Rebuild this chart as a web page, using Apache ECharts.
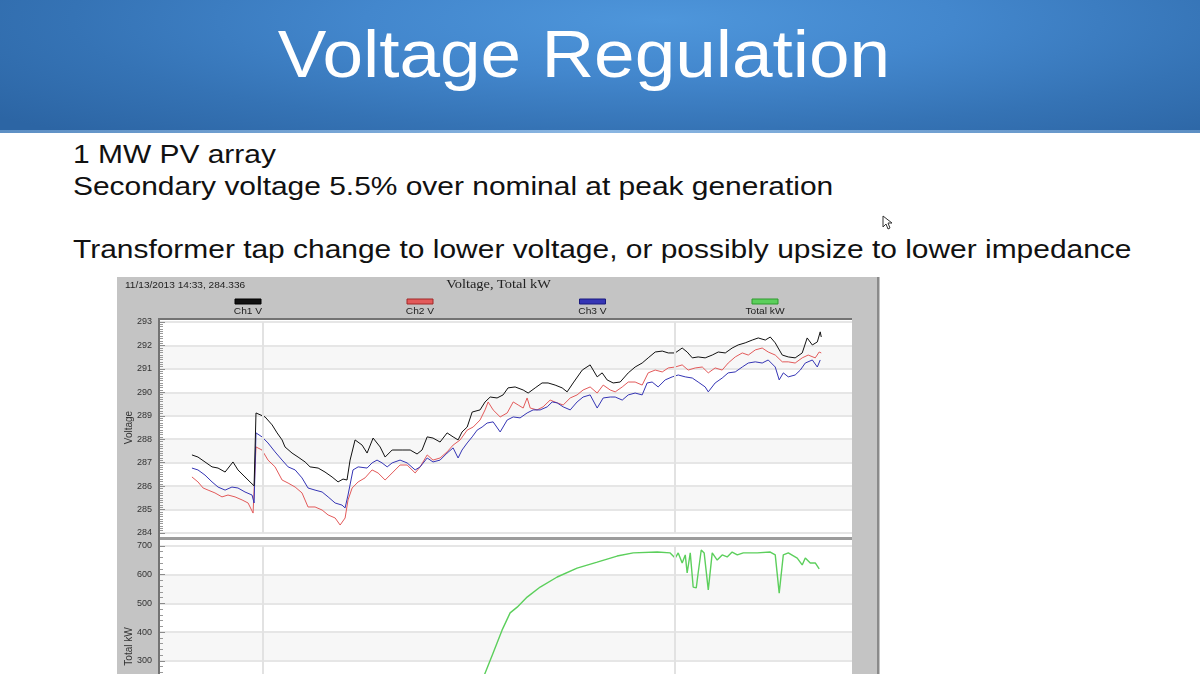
<!DOCTYPE html>
<html><head><meta charset="utf-8">
<script src="https://cdn.jsdelivr.net/npm/echarts@6/dist/echarts.min.js"></script>
<style>
html,body{margin:0;padding:0;width:1200px;height:674px;overflow:hidden;background:#fff;font-family:"Liberation Sans",Arial,sans-serif;}
#band{position:absolute;left:0;top:0;width:1200px;height:132px;background:radial-gradient(ellipse 70% 120% at 55% 15%, #4e96db 0%, #4387cd 35%, #3573b5 70%, #2c65a4 100%);}
#bandline{position:absolute;left:0;top:130px;width:1200px;height:3px;background:linear-gradient(90deg,#5d8fc4,#8ab6e2 50%,#5d8fc4);}
#title{position:absolute;left:583.5px;top:21px;font-size:66px;line-height:1;color:#fff;white-space:nowrap;transform:translateX(-50%) scaleX(1.105);}
.line{position:absolute;left:73px;font-size:25px;line-height:1;color:#111;white-space:nowrap;transform-origin:0 0;transform:scaleX(1.197);}
#chart{position:absolute;left:117px;top:277px;width:763px;height:523px;}
#cursor{position:absolute;left:882px;top:215px;}
</style>
</head><body>
<div id="band"></div><div id="bandline"></div>
<div id="title">Voltage Regulation</div>
<div class="line" style="top:142px">1 MW PV array</div>
<div class="line" style="top:174px">Secondary voltage 5.5% over nominal at peak generation</div>
<div class="line" style="top:237px">Transformer tap change to lower voltage, or possibly upsize to lower impedance</div>
<svg id="cursor" width="12" height="16"><polygon points="1,1 1,12 4,9 6,14 8,13 6,8 10,8" fill="#fff" stroke="#333" stroke-width="1"/></svg>
<div id="chart"></div>
<script>
// time in minutes after 08:00
const headerText = '11/13/2013 14:33, 284.336';
const chartTitle = 'Voltage, Total kW';
const legendNames = ['Ch1 V', 'Ch2 V', 'Ch3 V', 'Total kW'];
const voltRange = [284, 293];
const kwRange = [0, 700];
const timeRange = [0, 403];
const timeGridlines = [60, 300];

const ch1 = [[18.6,287.33],[22.1,287.24],[26.2,287.03],[30.3,286.82],[33.8,286.77],[37.9,286.60],[42.5,287.03],[45.4,286.69],[49.5,286.39],[52.4,286.18],[54.8,286.01],[55.9,289.12],[61.2,288.95],[65.3,288.61],[68.2,288.27],[71.1,287.97],[72.8,287.67],[76.9,287.41],[80.4,287.24],[84.5,287.03],[87.4,286.82],[92.1,286.77],[96.1,286.60],[100.2,286.39],[103.7,286.18],[106.6,286.30],[108.9,286.26],[110.7,287.11],[113.6,287.97],[117.7,287.75],[120.6,287.41],[124.1,288.05],[128.2,287.67],[131.1,287.24],[135.2,287.54],[141.0,287.54],[145.7,287.54],[149.7,287.37],[152.6,287.54],[155.6,288.10],[159.0,288.05],[163.1,287.88],[167.2,288.27],[170.7,288.10],[173.6,287.97],[175.9,288.31],[178.9,288.52],[181.8,289.16],[186.4,289.25],[189.3,289.59],[192.3,289.80],[196.3,289.76],[199.8,289.89],[202.7,290.19],[206.8,290.23],[211.5,290.10],[214.4,289.97],[218.5,290.19],[222.5,290.40],[226.0,290.40],[230.1,290.31],[234.2,290.19],[237.1,290.02],[240.6,290.40],[245.9,290.95],[250.5,291.17],[254.6,290.66],[257.5,290.83],[260.4,290.53],[263.9,290.40],[268.0,290.44],[272.7,290.83],[276.7,291.08],[280.8,291.25],[284.3,291.47],[288.4,291.72],[292.5,291.76],[296.0,291.68],[300.0,291.68],[304.1,291.89],[307.0,291.72],[310.0,291.47],[313.4,291.51],[317.5,291.47],[321.6,291.59],[325.1,291.72],[329.2,291.68],[333.2,291.89],[336.7,292.02],[340.8,292.11],[344.9,292.23],[348.4,292.32],[352.5,292.23],[355.4,292.36],[358.3,292.11],[360.0,291.89],[362.4,291.59],[365.9,291.51],[369.9,291.47],[374.0,291.68],[376.9,292.32],[379.9,292.02],[382.8,292.15],[384.5,292.58],[385.1,292.36]];

const ch2 = [[18.6,286.39],[22.1,286.18],[25.1,285.92],[28.0,285.83],[32.0,285.71],[36.1,285.54],[39.6,285.62],[43.7,285.54],[47.8,285.41],[51.3,285.28],[54.2,284.85],[55.9,287.67],[59.4,287.54],[62.9,287.11],[67.0,286.82],[71.1,286.26],[74.6,286.13],[78.7,285.96],[82.7,285.71],[86.2,285.11],[90.3,285.11],[94.4,284.98],[97.9,284.77],[102.0,284.64],[104.9,284.34],[107.8,284.64],[109.5,285.41],[111.9,285.92],[115.4,286.18],[119.4,286.35],[123.5,286.69],[127.0,286.56],[131.1,286.26],[135.2,286.56],[139.8,286.90],[143.9,286.90],[148.6,286.56],[151.5,286.82],[155.6,287.33],[159.0,287.11],[163.1,287.20],[167.2,287.46],[170.7,287.75],[174.8,287.97],[178.9,288.39],[182.4,288.52],[186.4,288.82],[189.3,289.25],[191.1,289.59],[194.0,289.25],[198.1,288.95],[202.2,289.12],[205.7,289.59],[208.6,289.46],[211.5,289.33],[213.8,289.76],[215.6,289.33],[219.6,289.25],[223.1,289.38],[227.2,289.67],[231.3,289.55],[234.8,289.46],[238.9,289.76],[242.9,289.89],[246.4,290.10],[250.5,290.23],[254.6,289.97],[258.1,290.31],[262.2,290.10],[265.1,290.02],[269.2,290.23],[272.7,290.44],[276.7,290.44],[280.8,290.31],[284.3,290.83],[288.4,290.95],[292.5,290.87],[296.0,291.04],[300.0,291.08],[304.1,291.17],[307.6,290.95],[311.7,291.04],[315.8,291.08],[319.3,290.83],[323.3,291.04],[327.4,290.95],[330.9,291.25],[335.0,291.51],[339.1,291.68],[342.6,291.59],[346.7,291.81],[350.7,291.89],[354.2,291.72],[358.3,291.59],[362.4,291.30],[365.9,291.30],[369.9,291.25],[374.0,291.47],[377.5,291.59],[381.6,291.47],[383.9,291.72],[385.1,291.68]];

const ch3 = [[18.6,286.77],[22.1,286.69],[26.2,286.47],[30.3,286.18],[33.8,285.96],[37.9,285.83],[41.9,285.96],[45.4,285.92],[49.5,285.75],[53.6,285.62],[54.8,285.28],[55.9,288.27],[59.4,288.10],[62.9,287.84],[67.0,287.46],[71.1,287.11],[74.6,286.82],[78.7,286.69],[82.7,286.35],[86.2,285.92],[90.3,285.83],[94.4,285.75],[97.9,285.54],[102.0,285.28],[106.0,285.19],[107.8,285.07],[109.5,285.62],[112.4,286.69],[115.4,286.82],[120.6,286.77],[123.5,286.99],[126.4,287.11],[129.3,286.99],[132.3,286.82],[135.2,286.99],[139.8,287.11],[143.9,286.99],[148.6,286.69],[151.5,286.82],[155.6,287.20],[159.0,287.03],[163.1,287.11],[167.2,287.41],[170.7,287.63],[173.6,287.20],[175.9,287.54],[178.9,287.84],[181.8,288.10],[184.7,288.39],[187.6,288.52],[190.5,288.69],[194.0,288.74],[198.1,288.31],[202.2,288.82],[205.7,288.95],[209.7,288.91],[213.8,289.12],[217.3,289.25],[221.4,289.25],[225.5,289.38],[228.4,289.59],[231.3,289.55],[234.8,289.38],[238.9,289.25],[242.9,289.59],[246.4,289.80],[250.5,289.89],[254.6,289.33],[258.1,289.76],[262.2,289.80],[265.1,289.80],[269.2,289.67],[272.7,289.89],[276.7,289.97],[280.8,289.89],[283.7,290.40],[286.6,290.44],[290.1,290.23],[294.2,290.53],[298.3,290.66],[301.8,290.74],[305.9,290.66],[310.0,290.61],[313.4,290.44],[317.5,290.23],[319.3,290.02],[323.3,290.40],[327.4,290.61],[330.9,290.83],[335.0,290.87],[339.1,291.08],[342.6,291.25],[346.7,291.30],[350.7,291.25],[354.2,291.38],[358.3,291.08],[360.6,290.53],[363.0,290.83],[365.9,290.66],[369.9,290.74],[372.9,290.95],[375.8,291.25],[379.9,291.38],[382.8,291.08],[384.5,291.38]];

const totalKW = [[181.8,150],[185.8,205],[189.3,257],[194.0,327],[199.2,407],[203.9,467],[208.0,487],[213.8,522],[221.4,557],[231.3,592],[242.9,623],[254.6,644],[266.2,665],[275.6,676],[289.6,679],[297.1,676],[300.0,658],[301.8,676],[304.1,641],[305.9,669],[307.0,606],[308.8,676],[310.5,557],[312.3,554],[313.4,606],[315.2,686],[316.9,676],[319.3,547],[321.6,676],[324.5,651],[327.4,669],[330.3,662],[333.2,679],[336.2,669],[339.7,676],[347.8,676],[355.4,679],[358.3,669],[360.6,536],[363.0,669],[365.9,676],[371.1,658],[374.0,634],[375.8,658],[378.7,641],[381.6,641],[383.9,620]];

const colors = ['#111111', '#e35a5a', '#3535b5', '#5ccf5c'];
const swatchStroke = ['#000000', '#a02828', '#1a1a80', '#2f9a2f'];

const chart = echarts.init(document.getElementById('chart'), null, {renderer: 'canvas'});
const PL = 43, PW = 692;
const sans = 'Liberation Sans';

const legendCenters = [131, 303, 475.5, 648];
const graphics = [
  {type:'rect', z:-20, shape:{x:0, y:0, width:763, height:523}, style:{fill:'#c4c4c4'}},
  {type:'rect', z:-19, shape:{x:PL, y:42, width:PW, height:219}, style:{fill:'#ffffff'}},
  {type:'rect', z:-19, shape:{x:PL, y:263, width:PW, height:260}, style:{fill:'#ffffff'}},
  {type:'rect', z:50, shape:{x:PL-1, y:260, width:PW+1, height:3}, style:{fill:'#9c9c9c'}},
  {type:'rect', z:50, shape:{x:PL-2, y:41, width:PW+2, height:2}, style:{fill:'#737373'}},
  {type:'rect', z:50, shape:{x:PL-2, y:41, width:2, height:482}, style:{fill:'#737373'}},
  {type:'rect', z:50, shape:{x:760, y:0, width:2, height:523}, style:{fill:'#8a8a8a'}},
  {type:'text', z:50, x:8, y:9, scaleX:1.19, style:{text:headerText, font:'8.5px "Liberation Sans"', fill:'#222', verticalAlign:'middle'}},
  {type:'text', z:50, x:381.5, y:8, scaleX:1.2, style:{text:chartTitle, font:'12px "Liberation Serif"', fill:'#222', align:'center', verticalAlign:'middle'}}
];
legendNames.forEach((n, i) => {
  const cx = legendCenters[i];
  graphics.push({type:'rect', z:50, shape:{x:cx-13, y:22, width:26, height:5}, style:{fill:colors[i], stroke:swatchStroke[i], lineWidth:1}});
  graphics.push({type:'text', z:50, x:cx, y:35, scaleX:1.2, style:{text:n, font:'8.5px "Liberation Sans"', fill:'#222', align:'center', verticalAlign:'middle'}});
});

function yAx(grid, range, interval, name, minorSplit) {
  return {
    type:'value', gridIndex:grid, min:range[0], max:range[1], interval:interval,
    name:name, nameLocation:'middle', nameGap:26, nameMoveOverlap:false,
    nameTextStyle:{fontSize:10, color:'#333', fontFamily:sans},
    axisLine:{show:false},
    axisTick:{show:true, inside:true, length:5, lineStyle:{color:'#8c8c8c'}},
    minorTick:{show:true, splitNumber:minorSplit, length:3, lineStyle:{color:'#9a9a9a'}},
    axisLabel:{fontSize:9, color:'#333', margin:8, fontFamily:sans},
    splitLine:{lineStyle:{color:'#e6e6e6', width:2}},
    splitArea:{show:true, areaStyle:{color:['#ffffff','#f7f7f7']}}
  };
}
function xAx(grid) {
  return {type:'value', gridIndex:grid, min:timeRange[0], max:timeRange[1],
    axisLine:{show:false}, axisTick:{show:false}, axisLabel:{show:false}, splitLine:{show:false}};
}
function gridLines(xi, yi, y0) {
  return {type:'line', xAxisIndex:xi, yAxisIndex:yi, data:[[timeRange[0], y0]], showSymbol:false, z:1,
    lineStyle:{opacity:0}, silent:true,
    markLine:{silent:true, symbol:'none', label:{show:false}, animation:false,
      lineStyle:{color:'#e2e2e2', width:2, type:'solid'},
      data:timeGridlines.map(v => ({xAxis:v}))}};
}
function lineSeries(name, data, color, xi, yi, w) {
  return {name:name, type:'line', xAxisIndex:xi, yAxisIndex:yi, data:data, showSymbol:false, z:3,
    lineStyle:{color:color, width:w}, itemStyle:{color:color}};
}

chart.setOption({
  animation:false,
  grid:[
    {left:PL, top:45, width:PW, height:211, containLabel:false, outerBoundsMode:'none'},
    {left:PL, top:269, width:PW, height:201, containLabel:false, outerBoundsMode:'none'}
  ],
  xAxis:[xAx(0), xAx(1)],
  yAxis:[yAx(0, voltRange, 1, 'Voltage', 10), yAx(1, kwRange, 100, 'Total kW', 5)],
  graphic:graphics,
  series:[
    gridLines(0, 0, voltRange[0]),
    gridLines(1, 1, kwRange[0]),
    lineSeries(legendNames[1], ch2, colors[1], 0, 0, 1),
    lineSeries(legendNames[2], ch3, colors[2], 0, 0, 1),
    lineSeries(legendNames[0], ch1, colors[0], 0, 0, 1),
    lineSeries(legendNames[3], totalKW, colors[3], 1, 1, 1.4)
  ]
});
</script>
</body></html>
